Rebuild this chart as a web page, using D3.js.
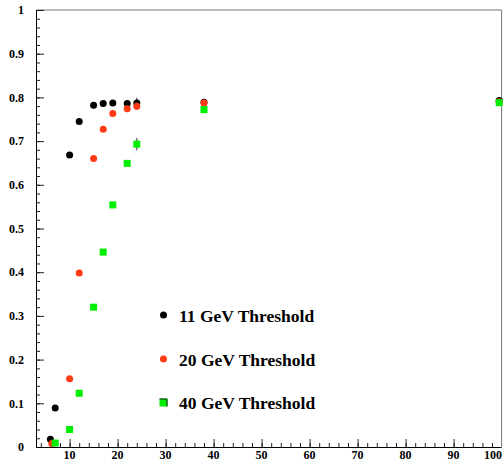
<!DOCTYPE html>
<html>
<head>
  <script src="https://cdn.jsdelivr.net/npm/d3@7/dist/d3.min.js"></script>
  <style>
    body { margin: 0; background: #fff; }
    text { font-family: "Liberation Serif", "Times New Roman", serif; font-weight: bold; }
  </style>
</head>
<body>
  <svg width="503" height="460" id="effsvg"></svg>
  <script>
    // threshold points (x in GeV, efficiency)
    const x11 = [6, 7, 10, 12, 15, 17, 19, 22, 24, 38, 99.5];
    const eff11 = [0.018, 0.089, 0.668, 0.745, 0.782, 0.786, 0.787, 0.786, 0.787, 0.789, 0.793];
    const err11 = [0.003, 0.004, 0.005, 0.005, 0.004, 0.004, 0.004, 0.005, 0.012, 0.005, 0.005];

    const x20 = [6.3, 10, 12, 15, 17, 19, 22, 24, 38, 99.5];
    const eff20 = [0.008, 0.156, 0.398, 0.66, 0.727, 0.763, 0.774, 0.78, 0.787, 0.79];
    const err20 = [0.003, 0.004, 0.005, 0.005, 0.005, 0.005, 0.005, 0.008, 0.005, 0.005];

    const x40 = [7, 10, 12, 15, 17, 19, 22, 24, 38, 99.5];
    const eff40 = [0.009, 0.04, 0.123, 0.32, 0.446, 0.554, 0.649, 0.693, 0.772, 0.788];
    const err40 = [0.003, 0.004, 0.005, 0.005, 0.005, 0.005, 0.005, 0.014, 0.005, 0.005];

    const seriesNames = ['11 GeV Threshold', '20 GeV Threshold', '40 GeV Threshold'];
    const xTicks = [10, 20, 30, 40, 50, 60, 70, 80, 90, 100];
    const yTicks = [0, 0.1, 0.2, 0.3, 0.4, 0.5, 0.6, 0.7, 0.8, 0.9, 1];

    const svg = d3.select('#effsvg');
    const pLeft = 36, pRight = 501.6, pTop = 10, pBottom = 447;

    const xScale = d3.scaleLinear().domain([3, 100]).range([pLeft, pRight]);
    const yScale = d3.scaleLinear().domain([0, 1]).range([pBottom, pTop]);

    // frame
    svg.append('line').attr('x1', pLeft).attr('x2', pRight).attr('y1', pTop).attr('y2', pTop)
      .attr('stroke', '#777');
    svg.append('line').attr('x1', pRight).attr('x2', pRight).attr('y1', pTop).attr('y2', pBottom)
      .attr('stroke', '#777');

    // y axis: ticks pointing inward
    const yMinor = d3.range(0, 1.0001, 0.02);
    svg.append('g').attr('transform', `translate(${pLeft}, 0)`)
      .call(d3.axisRight(yScale).tickValues(yMinor).tickSize(4).tickFormat(''))
      .call(g => g.selectAll('.tick line').attr('stroke', '#222'))
      .call(g => g.select('.domain').attr('stroke', '#000').attr('d', `M0.5,${pTop}V${pBottom}`));
    svg.append('g').attr('transform', `translate(${pLeft}, 0)`)
      .call(d3.axisRight(yScale).tickValues(yTicks).tickSize(8).tickFormat(''))
      .call(g => g.select('.domain').remove())
      .call(g => g.selectAll('.tick line').attr('stroke', '#222'));
    svg.append('g').selectAll('text').data(yTicks).join('text')
      .attr('x', 24)
      .attr('y', d => yScale(d))
      .attr('dy', '0.35em')
      .attr('text-anchor', 'end')
      .attr('font-size', '12px')
      .text(d => d3.format('~g')(d));

    // x axis: ticks pointing up
    const xMinor = d3.range(4, 100, 2);
    svg.append('g').attr('transform', `translate(0, ${pBottom})`)
      .call(d3.axisTop(xScale).tickValues(xMinor).tickSize(4).tickFormat(''))
      .call(g => g.selectAll('.tick line').attr('stroke', '#222'))
      .call(g => g.select('.domain').attr('stroke', '#000').attr('d', `M${pLeft},0.5H${pRight}`));
    svg.append('g').attr('transform', `translate(0, ${pBottom})`)
      .call(d3.axisTop(xScale).tickValues(xTicks.filter(d => d < 100)).tickSize(8).tickFormat(''))
      .call(g => g.select('.domain').remove())
      .call(g => g.selectAll('.tick line').attr('stroke', '#222'));
    // the last label is pulled inside the window so it is not clipped
    svg.append('g').selectAll('text').data(xTicks).join('text')
      .attr('x', d => d === 100 ? 502 : xScale(d))
      .attr('y', 458.5)
      .attr('text-anchor', d => d === 100 ? 'end' : 'middle')
      .attr('font-size', '12px')
      .text(d => d);

    const colors = ['#000000', '#ff3a14', '#00ee00'];
    const series = [
      { xs: x11, ys: eff11, es: err11, shape: 'circle', color: colors[0] },
      { xs: x20, ys: eff20, es: err20, shape: 'circle', color: colors[1] },
      { xs: x40, ys: eff40, es: err40, shape: 'square', color: colors[2] }
    ];

    series.forEach(s => {
      const pts = s.xs.map((x, i) => ({ x: x, y: s.ys[i], e: s.es[i] }));
      const sg = svg.append('g');
      sg.selectAll('.errbar').data(pts).join('line')
        .attr('class', 'errbar')
        .attr('x1', d => xScale(d.x)).attr('x2', d => xScale(d.x))
        .attr('y1', d => yScale(d.y - d.e)).attr('y2', d => yScale(d.y + d.e))
        .attr('stroke', '#555').attr('stroke-width', 1.2);
      if (s.shape === 'circle') {
        sg.selectAll('.mark').data(pts).join('circle')
          .attr('class', 'mark')
          .attr('cx', d => xScale(d.x))
          .attr('cy', d => yScale(d.y))
          .attr('r', 3.5)
          .attr('fill', s.color);
      } else {
        sg.selectAll('.mark').data(pts).join('rect')
          .attr('class', 'mark')
          .attr('x', d => xScale(d.x) - 3.5)
          .attr('y', d => yScale(d.y) - 3.5)
          .attr('width', 7)
          .attr('height', 7)
          .attr('fill', s.color);
      }
    });

    // legend
    const legY = [315, 359, 402.5];
    const lg = svg.append('g');
    seriesNames.forEach((name, i) => {
      if (i < 2) {
        lg.append('circle').attr('cx', 163.5).attr('cy', legY[i]).attr('r', 3.5).attr('fill', colors[i]);
      } else {
        lg.append('rect').attr('x', 159.5).attr('y', legY[i] - 4).attr('width', 8).attr('height', 8)
          .attr('fill', colors[i]);
        lg.append('path').attr('d', `M159.5,${legY[i] - 3.5}H167V${legY[i] + 4}`)
          .attr('fill', 'none').attr('stroke', '#222').attr('stroke-width', 1);
      }
      lg.append('text')
        .attr('x', 179)
        .attr('y', legY[i] + 6.5)
        .attr('font-size', '17.5px')
        .text(name);
    });
  </script>
</body>
</html>
